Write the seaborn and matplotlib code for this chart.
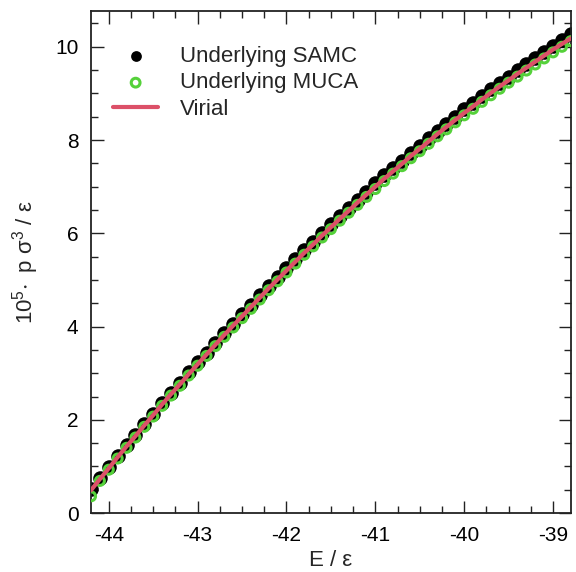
import matplotlib
matplotlib.use("Agg")
import matplotlib.pyplot as plt
import pandas as pd
import seaborn as sns
from matplotlib.ticker import MultipleLocator

# Energy grid (E / epsilon)
energy = [-44.2, -44.1, -44.0, -43.9, -43.8, -43.7, -43.6, -43.5, -43.4, -43.3,
          -43.2, -43.1, -43.0, -42.9, -42.8, -42.7, -42.6, -42.5, -42.4, -42.3,
          -42.2, -42.1, -42.0, -41.9, -41.8, -41.7, -41.6, -41.5, -41.4, -41.3,
          -41.2, -41.1, -41.0, -40.9, -40.8, -40.7, -40.6, -40.5, -40.4, -40.3,
          -40.2, -40.1, -40.0, -39.9, -39.8, -39.7, -39.6, -39.5, -39.4, -39.3,
          -39.2, -39.1, -39.0, -38.9, -38.8]

# 10^5 * p sigma^3 / epsilon
samc = [0.52, 0.76, 0.99, 1.23, 1.46, 1.68, 1.91, 2.13, 2.36, 2.58,
        2.80, 3.02, 3.23, 3.44, 3.65, 3.86, 4.06, 4.27, 4.47, 4.67,
        4.87, 5.06, 5.26, 5.45, 5.64, 5.82, 6.01, 6.19, 6.37, 6.54,
        6.72, 6.89, 7.07, 7.24, 7.40, 7.56, 7.73, 7.88, 8.04, 8.20,
        8.35, 8.50, 8.66, 8.80, 8.95, 9.09, 9.23, 9.36, 9.50, 9.63,
        9.76, 9.89, 10.02, 10.15, 10.27]
muca = [0.36, 0.69, 0.93, 1.17, 1.40, 1.62, 1.85, 2.07, 2.30, 2.52,
        2.73, 2.95, 3.16, 3.37, 3.58, 3.78, 3.98, 4.18, 4.38, 4.58,
        4.78, 4.97, 5.16, 5.35, 5.54, 5.72, 5.91, 6.09, 6.27, 6.44,
        6.61, 6.78, 6.95, 7.12, 7.28, 7.44, 7.61, 7.76, 7.92, 8.08,
        8.23, 8.38, 8.53, 8.67, 8.82, 8.96, 9.10, 9.23, 9.36, 9.49,
        9.62, 9.75, 9.88, 10.00, 10.12]
virial = [0.49, 0.73, 0.96, 1.20, 1.43, 1.65, 1.88, 2.10, 2.33, 2.55,
          2.76, 2.98, 3.19, 3.40, 3.61, 3.82, 4.02, 4.22, 4.42, 4.62,
          4.82, 5.01, 5.20, 5.39, 5.58, 5.76, 5.95, 6.13, 6.31, 6.48,
          6.66, 6.83, 7.00, 7.17, 7.33, 7.49, 7.66, 7.81, 7.97, 8.13,
          8.28, 8.43, 8.58, 8.72, 8.87, 9.01, 9.15, 9.28, 9.42, 9.55,
          9.68, 9.81, 9.94, 10.06, 10.18]

df = pd.DataFrame({"E": energy, "samc": samc, "muca": muca, "virial": virial})

sns.set_theme(style="ticks")
plt.rcParams["font.family"] = ["Liberation Sans", "DejaVu Sans"]
plt.rcParams["mathtext.default"] = "regular"
plt.rcParams["axes.unicode_minus"] = False

fig = plt.figure(figsize=(5.76, 5.72), dpi=100)
ax = fig.add_axes([0.158, 0.103, 0.833, 0.878])

sns.scatterplot(data=df, x="E", y="samc", ax=ax, color="black", s=110,
                linewidth=0, label="Underlying SAMC", zorder=2)
sns.scatterplot(data=df, x="E", y="muca", ax=ax, facecolor="none", edgecolor="#55d13a",
                s=42, linewidth=2.2, label="Underlying MUCA", zorder=3)
sns.lineplot(data=df, x="E", y="virial", ax=ax, color="#dc5068", linewidth=3,
             label="Virial", zorder=4)

ax.set_xlim(-44.2, -38.8)
ax.set_ylim(0, 10.77)
ax.xaxis.set_major_locator(MultipleLocator(1))
ax.xaxis.set_minor_locator(MultipleLocator(0.25))
ax.yaxis.set_major_locator(MultipleLocator(2))
ax.yaxis.set_minor_locator(MultipleLocator(0.5))
ax.tick_params(which="both", direction="in", top=True, right=True, colors="#222222",
               labelcolor="black", labelsize=15)
ax.tick_params(which="major", length=9, width=1.0, pad=9)
ax.tick_params(which="minor", length=5, width=1.0)
for s in ax.spines.values():
    s.set_color("#222222")
    s.set_linewidth(1.3)

ax.set_xlabel("E / ε", fontsize=16, labelpad=4)
ax.set_ylabel(r"$10^5\!\cdot$ p σ$^3$ / ε", fontsize=16, labelpad=10)

leg = ax.legend(loc="upper left", frameon=False, fontsize=16, handlelength=2.0,
                handletextpad=1.0, labelspacing=0.25, borderaxespad=0.5,
                bbox_to_anchor=(0.005, 0.97))
leg.legend_handles[0].set_sizes([60])
leg.legend_handles[1].set_sizes([40])

fig.savefig("out.png", dpi=100)
